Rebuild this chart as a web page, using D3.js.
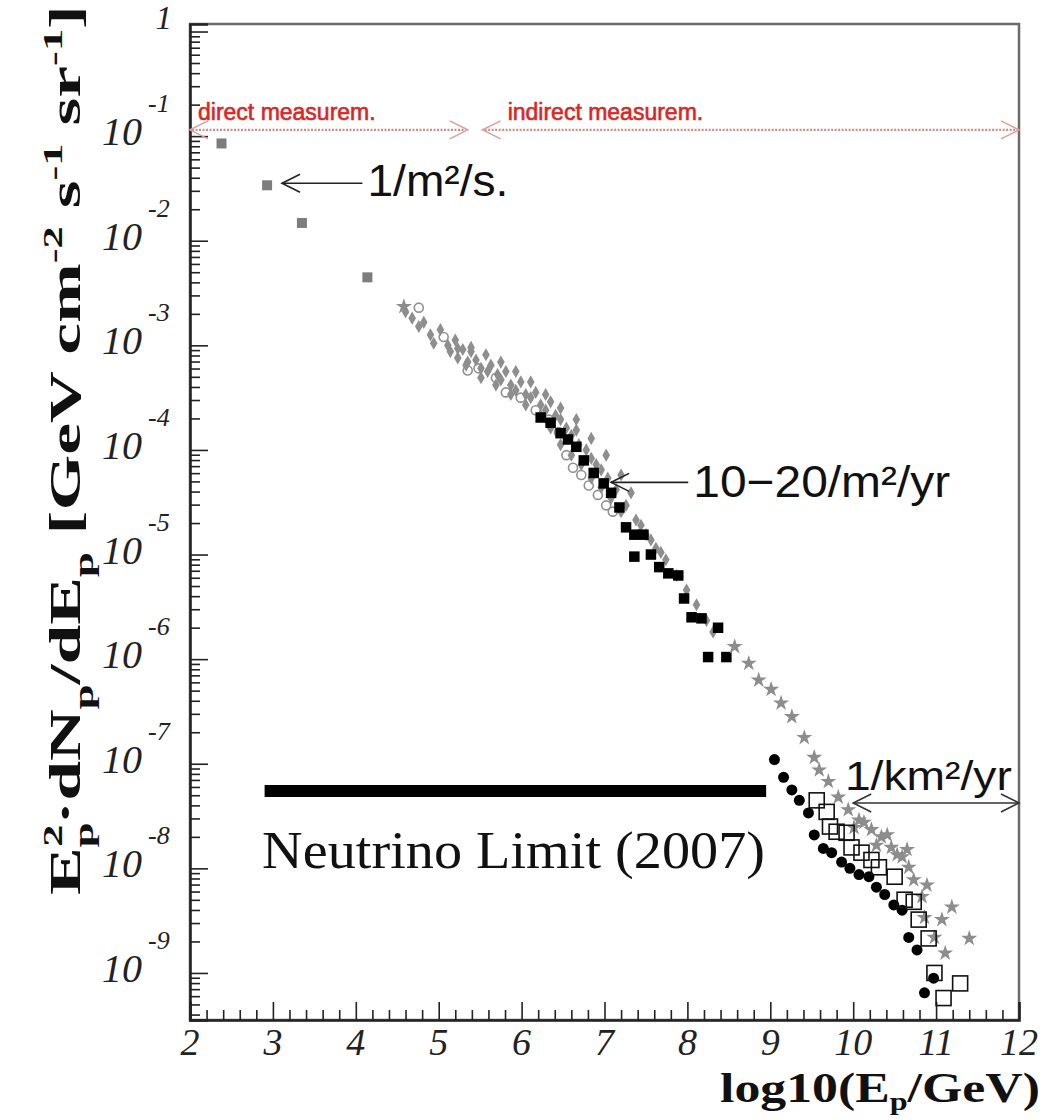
<!DOCTYPE html>
<html lang="en">
<head>
<meta charset="UTF-8">
<title>Cosmic ray proton flux</title>
<script src="https://cdn.jsdelivr.net/npm/d3@7.8.5/dist/d3.min.js"></script>
<style>
  html, body { margin: 0; padding: 0; background: #fff; }
  svg { display: block; }
  .serif { font-family: 'Liberation Serif', 'Times New Roman', serif; }
  .sans { font-family: 'Liberation Sans', Arial, sans-serif; }
</style>
</head>
<body>
<svg id="chart" width="1045" height="1120"></svg>
<script>
// every point is [log10(E/GeV), log10(flux)]
const directSquares = [[2.38,-1.07],[2.93,-1.47],[3.35,-1.83],[4.14,-2.35]];

const grayBand = [
  [4.60,-2.68],[4.68,-2.74],[4.76,-2.82],[4.82,-2.78],[4.90,-2.90],[4.94,-2.98],
  [5.02,-2.85],[5.11,-3.00],[5.23,-3.03],[5.23,-3.12],[5.29,-3.04],[5.35,-3.16],
  [5.39,-3.06],[5.45,-3.14],[5.51,-3.22],[5.59,-3.25],[5.63,-3.19],[5.71,-3.28],
  [5.75,-3.33],[5.81,-3.25],[5.87,-3.38],[5.93,-3.43],[5.99,-3.35],[6.05,-3.47],
  [6.11,-3.50],[6.17,-3.45],[6.23,-3.57],[6.29,-3.62],[6.35,-3.54],[6.41,-3.67],
  [6.47,-3.71],[6.54,-3.79],[6.60,-3.86],[6.66,-3.81],[6.69,-3.95],[6.78,-4.00],
  [6.84,-4.08],[6.90,-4.14],[6.96,-4.19],[7.04,-4.27],[7.14,-4.38],[7.26,-4.53],
  [7.38,-4.67],[7.50,-4.81],[7.62,-4.94],[7.74,-5.05],[7.87,-5.20],[7.99,-5.34],
  [8.11,-5.48],[8.23,-5.63],[8.31,-5.74],
  [5.20,-2.95],[5.39,-3.02],[5.57,-3.09],[5.75,-3.16],[5.93,-3.25],[6.11,-3.35],
  [6.29,-3.47],[6.47,-3.60],[6.66,-3.71],[6.84,-3.89],[7.02,-4.05],[7.20,-4.24],
  [7.32,-4.41],
  [5.14,-3.06],[5.33,-3.19],[5.51,-3.31],[5.69,-3.38],[5.87,-3.47],[6.05,-3.57],
  [6.23,-3.67],[6.35,-3.79],[6.47,-3.95],[6.60,-4.05],[6.72,-4.14],[6.84,-4.27],
  [6.96,-4.36],[7.08,-4.46],[7.20,-4.59],[7.44,-4.72],[7.56,-4.86],[7.68,-4.98]
];

const grayOpen = [
  [4.76,-2.64],[5.06,-2.92],[5.35,-3.24],[5.48,-3.22],[5.69,-3.31],[5.81,-3.45],
  [5.99,-3.50],[6.17,-3.62],[6.33,-3.71],[6.45,-3.83],[6.54,-4.05],[6.62,-4.17],
  [6.72,-4.24],[6.81,-4.34],[6.92,-4.43],[7.02,-4.53],[7.10,-4.59]
];

const blackSquares = [
  [6.23,-3.69],[6.35,-3.74],[6.47,-3.84],[6.56,-3.90],[6.66,-3.97],[6.75,-4.10],
  [6.87,-4.22],[6.99,-4.32],[7.08,-4.41],[7.18,-4.55],[7.26,-4.74],[7.36,-4.81],
  [7.47,-4.81],[7.36,-5.02],[7.56,-5.00],[7.66,-5.12],[7.77,-5.18],[7.89,-5.20],
  [7.96,-5.42],[8.05,-5.60],[8.17,-5.61],[8.37,-5.70],[8.25,-5.98],[8.47,-5.98]
];

const grayStars = [
  [4.58,-2.63],[8.57,-5.88],[8.74,-6.04],[8.86,-6.20],[9.01,-6.29],[9.13,-6.42],
  [9.26,-6.55],[9.41,-6.75],[9.53,-6.94],[9.59,-7.06],[9.70,-7.17],[9.82,-7.32],
  [9.94,-7.44],[10.01,-7.61],[10.07,-7.54],[10.22,-7.63],[10.28,-7.78],[10.34,-7.70],
  [10.46,-7.80],[10.53,-7.87],[10.59,-7.89],[10.67,-7.99],[10.83,-8.27],[10.86,-8.47],
  [10.98,-8.66],[11.07,-8.49],[11.11,-8.81],[11.19,-8.37],[11.40,-8.67],
  [10.13,-7.56],[10.41,-7.68],[10.65,-7.82],[10.73,-8.11],[10.89,-8.16]
];

const blackCircles = [
  [9.05,-6.96],[9.16,-7.13],[9.26,-7.25],[9.35,-7.35],[9.46,-7.47],[9.53,-7.68],
  [9.64,-7.81],[9.74,-7.85],[9.86,-7.94],[9.96,-8.00],[10.07,-8.06],[10.19,-8.08],
  [10.28,-8.18],[10.38,-8.25],[10.49,-8.35],[10.59,-8.40],[10.67,-8.66],[10.77,-8.78],
  [10.97,-9.05],[10.86,-9.19]
];

const openSquares = [
  [9.56,-7.35],[9.68,-7.46],[9.72,-7.60],[9.80,-7.65],[9.92,-7.66],[9.98,-7.80],
  [10.10,-7.85],[10.22,-7.92],[10.31,-7.99],[10.50,-8.08],[10.62,-8.30],[10.73,-8.32],
  [10.79,-8.49],[10.91,-8.67],[10.98,-9.00],[11.29,-9.10],[11.09,-9.24]
];

// neutrino limit bar: [fromLogE, toLogE, log10 flux]
const neutrinoLimit = [2.9, 8.95, -7.26];

// red range arrows along the top
const rangeLabels = ['direct measurem.', 'indirect measurem.'];
const rangeSpans = [[2.0, 5.35], [5.53, 12.0]];
const rangeLevel = -0.94;

const xTicks = [2, 3, 4, 5, 6, 7, 8, 9, 10, 11, 12];
const yExponents = [0, -1, -2, -3, -4, -5, -6, -7, -8, -9];

const svg = d3.select('#chart');
svg.append('rect').attr('width', 1045).attr('height', 1120).attr('fill', '#fff');

const x = d3.scaleLinear().domain([2, 12]).range([190, 1019]);
const y = d3.scaleLog().domain([3.55e-10, 1.18]).range([1020, 24]);
const Y = v => y(Math.pow(10, v));

// stretch a group along its own x so its text reaches the wanted width
function fit(g, target) {
  const w = g.node().getBBox().width;
  g.attr('transform', g.attr('transform') + ` scale(${target / w},1)`);
}

// text made of normal / sub / sup runs
function addRuns(text, list, base, subOff) {
  let cur = 0;
  list.forEach(r => {
    let off = 0, fs = base, dx = 0;
    if (r[1] === 'sub') { off = (subOff || 0.3) * base; fs = 0.62 * base; }
    if (r[1] === 'sup') { off = -0.42 * base; fs = 0.62 * base; }
    if (r[1] === 'stack') { off = -0.42 * base; fs = 0.62 * base; dx = -0.34 * base; }
    const ts = text.append('tspan').attr('font-size', fs).attr('dy', off - cur).text(r[0]);
    if (dx) ts.attr('dx', dx);
    cur = off;
  });
}

// frame
svg.append('rect')
  .attr('x', 190).attr('y', 24).attr('width', 829).attr('height', 996)
  .attr('fill', 'none').attr('stroke', '#6a6a6a').attr('stroke-width', 2.5);

// x axis ticks (inside)
const xMinor = d3.range(2, 12, 0.2).filter(v => Math.abs(v - Math.round(v)) > 0.01);
const xAxis = svg.append('g').attr('transform', 'translate(0,1020)');
xAxis.call(d3.axisBottom(x).tickValues(xTicks).tickSize(-18).tickFormat(''));
xAxis.append('g').call(d3.axisBottom(x).tickValues(xMinor).tickSize(-10).tickFormat(''))
  .select('.domain').remove();
xAxis.selectAll('line').attr('stroke', '#222').attr('stroke-width', 1.6);
xAxis.selectAll('.domain').attr('stroke', '#222').attr('stroke-width', 2.5);

// y axis ticks (inside)
const yMinor = [];
for (let n = -10; n <= 0; n++) for (let k = 2; k <= 9; k++) {
  const v = k * Math.pow(10, n);
  if (v > 3.55e-10 && v < 1.18) yMinor.push(v);
}
const yAxis = svg.append('g').attr('transform', 'translate(190,0)');
yAxis.call(d3.axisLeft(y).tickValues(yExponents.map(e => Math.pow(10, e))).tickSize(-18).tickFormat(''));
yAxis.append('g').call(d3.axisLeft(y).tickValues(yMinor).tickSize(-10).tickFormat(''))
  .select('.domain').remove();
yAxis.selectAll('line').attr('stroke', '#222').attr('stroke-width', 1.6);
yAxis.selectAll('.domain').attr('stroke', '#222').attr('stroke-width', 2.5);

// x tick labels
svg.append('g').selectAll('text').data(xTicks).join('text')
  .attr('class', 'serif').attr('font-style', 'italic').attr('font-size', 38)
  .attr('fill', '#222').attr('text-anchor', 'middle')
  .attr('x', d => x(d)).attr('y', 1055).text(d => d);

// y tick labels
const yl = svg.append('g').attr('class', 'serif').attr('font-style', 'italic').attr('fill', '#222');
yExponents.forEach(e => {
  const py = Y(e);
  if (e === 0) {
    yl.append('text').attr('x', 172).attr('y', 29).attr('font-size', 33)
      .attr('text-anchor', 'end').text('1');
    return;
  }
  yl.append('text').attr('x', 142).attr('y', py + 9).attr('font-size', 40)
    .attr('text-anchor', 'end').text('10');
  yl.append('text').attr('x', 148).attr('y', py - 24).attr('font-size', 26)
    .attr('text-anchor', 'start').text(e);
});

// axis titles
const yt = svg.append('g').attr('transform', 'translate(80,895) rotate(-90)');
addRuns(yt.append('text').attr('class', 'serif').attr('font-weight', 'bold').attr('fill', '#111'), [
  ['E'], ['p', 'sub'], ['2', 'stack'], ['·dN'], ['p', 'sub'], ['/dE'], ['p', 'sub'],
  [' [GeV cm'], ['-2', 'sup'], [' s'], ['-1', 'sup'], [' sr'], ['-1', 'sup'], [']']
], 44);
fit(yt, 890);

const xt = svg.append('g').attr('transform', 'translate(720,1102)');
addRuns(xt.append('text').attr('class', 'serif').attr('font-weight', 'bold').attr('fill', '#111'), [
  ['log10(E'], ['p', 'sub'], ['/GeV)']
], 42, 0.18);
fit(xt, 320);

// data
const plot = svg.append('g');
const sq = (g, data, s, fill, stroke) => g.selectAll(null).data(data).join('rect')
  .attr('x', d => x(d[0]) - s / 2).attr('y', d => Y(d[1]) - s / 2)
  .attr('width', s).attr('height', s)
  .attr('fill', fill).attr('stroke', stroke || 'none').attr('stroke-width', 1.6);

sq(plot, directSquares, 10, '#7d7d7d');

plot.selectAll(null).data(grayBand).join('path')
  .attr('d', d3.symbol(d3.symbolDiamond, 50))
  .attr('transform', d => `translate(${x(d[0])},${Y(d[1])})`)
  .attr('fill', '#8e8e8e');

plot.selectAll(null).data(grayOpen).join('circle')
  .attr('cx', d => x(d[0])).attr('cy', d => Y(d[1])).attr('r', 4.5)
  .attr('fill', 'none').attr('stroke', '#909090').attr('stroke-width', 1.6);

sq(plot, blackSquares, 10.5, '#000');

plot.selectAll(null).data(grayStars).join('path')
  .attr('d', d3.symbol(d3.symbolStar, 80))
  .attr('transform', d => `translate(${x(d[0])},${Y(d[1])})`)
  .attr('fill', '#8d8d8d');

plot.selectAll(null).data(blackCircles).join('circle')
  .attr('cx', d => x(d[0])).attr('cy', d => Y(d[1])).attr('r', 5.5)
  .attr('fill', '#000');

sq(plot, openSquares, 15, 'none', '#111');

// neutrino limit
svg.append('line')
  .attr('x1', x(neutrinoLimit[0])).attr('x2', x(neutrinoLimit[1]))
  .attr('y1', Y(neutrinoLimit[2])).attr('y2', Y(neutrinoLimit[2]))
  .attr('stroke', '#000').attr('stroke-width', 12);
const nl = svg.append('g').attr('transform', `translate(${x(2.87)},${Y(neutrinoLimit[2]) + 77})`);
nl.append('text').attr('class', 'serif').attr('font-size', 52).attr('fill', '#111')
  .text('Neutrino Limit (2007)');
fit(nl, 503);

// open arrowhead at (px,py) pointing in direction dir (+1 right, -1 left)
function head(g, px, py, dir, color, w) {
  g.append('path')
    .attr('d', `M${px - dir * 18},${py - 9}L${px},${py}L${px - dir * 18},${py + 9}`)
    .attr('fill', 'none').attr('stroke', color).attr('stroke-width', w);
}

// red range arrows
const ra = svg.append('g');
rangeSpans.forEach((s, i) => {
  const py = Y(rangeLevel);
  ra.append('line').attr('x1', x(s[0]) + 2).attr('x2', x(s[1]) - 2).attr('y1', py).attr('y2', py)
    .attr('stroke', '#cf8d8d').attr('stroke-width', 2.4).attr('stroke-dasharray', '2,1.5');
  head(ra, x(s[1]), py, 1, '#dca0a0', 1.6);
  head(ra, x(s[0]), py, -1, '#dca0a0', 1.6);
  ra.append('text').attr('class', 'sans').attr('font-size', 23).attr('fill', '#d92626')
    .attr('stroke', '#d92626').attr('stroke-width', 0.6)
    .attr('x', x(s[0]) + (i === 0 ? 8 : 25)).attr('y', py - 10).text(rangeLabels[i]);
});

// flux annotations
const notes = [
  { label: '1/m²/s.', tip: 3.11, tail: 4.08, at: -1.45, width: 141, dy: 13 },
  { label: '10−20/m²/yr', tip: 7.08, tail: 8.01, at: -4.31, width: 257, dy: 15 }
];
const an = svg.append('g');
notes.forEach(n => {
  const py = Y(n.at);
  an.append('line').attr('x1', x(n.tip)).attr('x2', x(n.tail)).attr('y1', py).attr('y2', py)
    .attr('stroke', '#222').attr('stroke-width', 1.6);
  head(an, x(n.tip), py, -1, '#222', 1.6);
  const g = an.append('g').attr('transform', `translate(${x(n.tail) + 5},${py + n.dy})`);
  g.append('text').attr('class', 'sans').attr('font-size', 44).attr('fill', '#111').text(n.label);
  fit(g, n.width);
});

// 1/km2/yr double arrow
const kmY = Y(-7.375);
an.append('line').attr('x1', x(10.0)).attr('x2', x(12.0)).attr('y1', kmY).attr('y2', kmY)
  .attr('stroke', '#333').attr('stroke-width', 1.6);
head(an, x(10.0), kmY, -1, '#333', 1.6);
head(an, x(12.0), kmY, 1, '#333', 1.6);
const km = an.append('g').attr('transform', `translate(${x(9.9)},${Y(-7.25)})`);
km.append('text').attr('class', 'sans').attr('font-size', 40).attr('fill', '#111').text('1/km²/yr');
fit(km, 167);
</script>
</body>
</html>
